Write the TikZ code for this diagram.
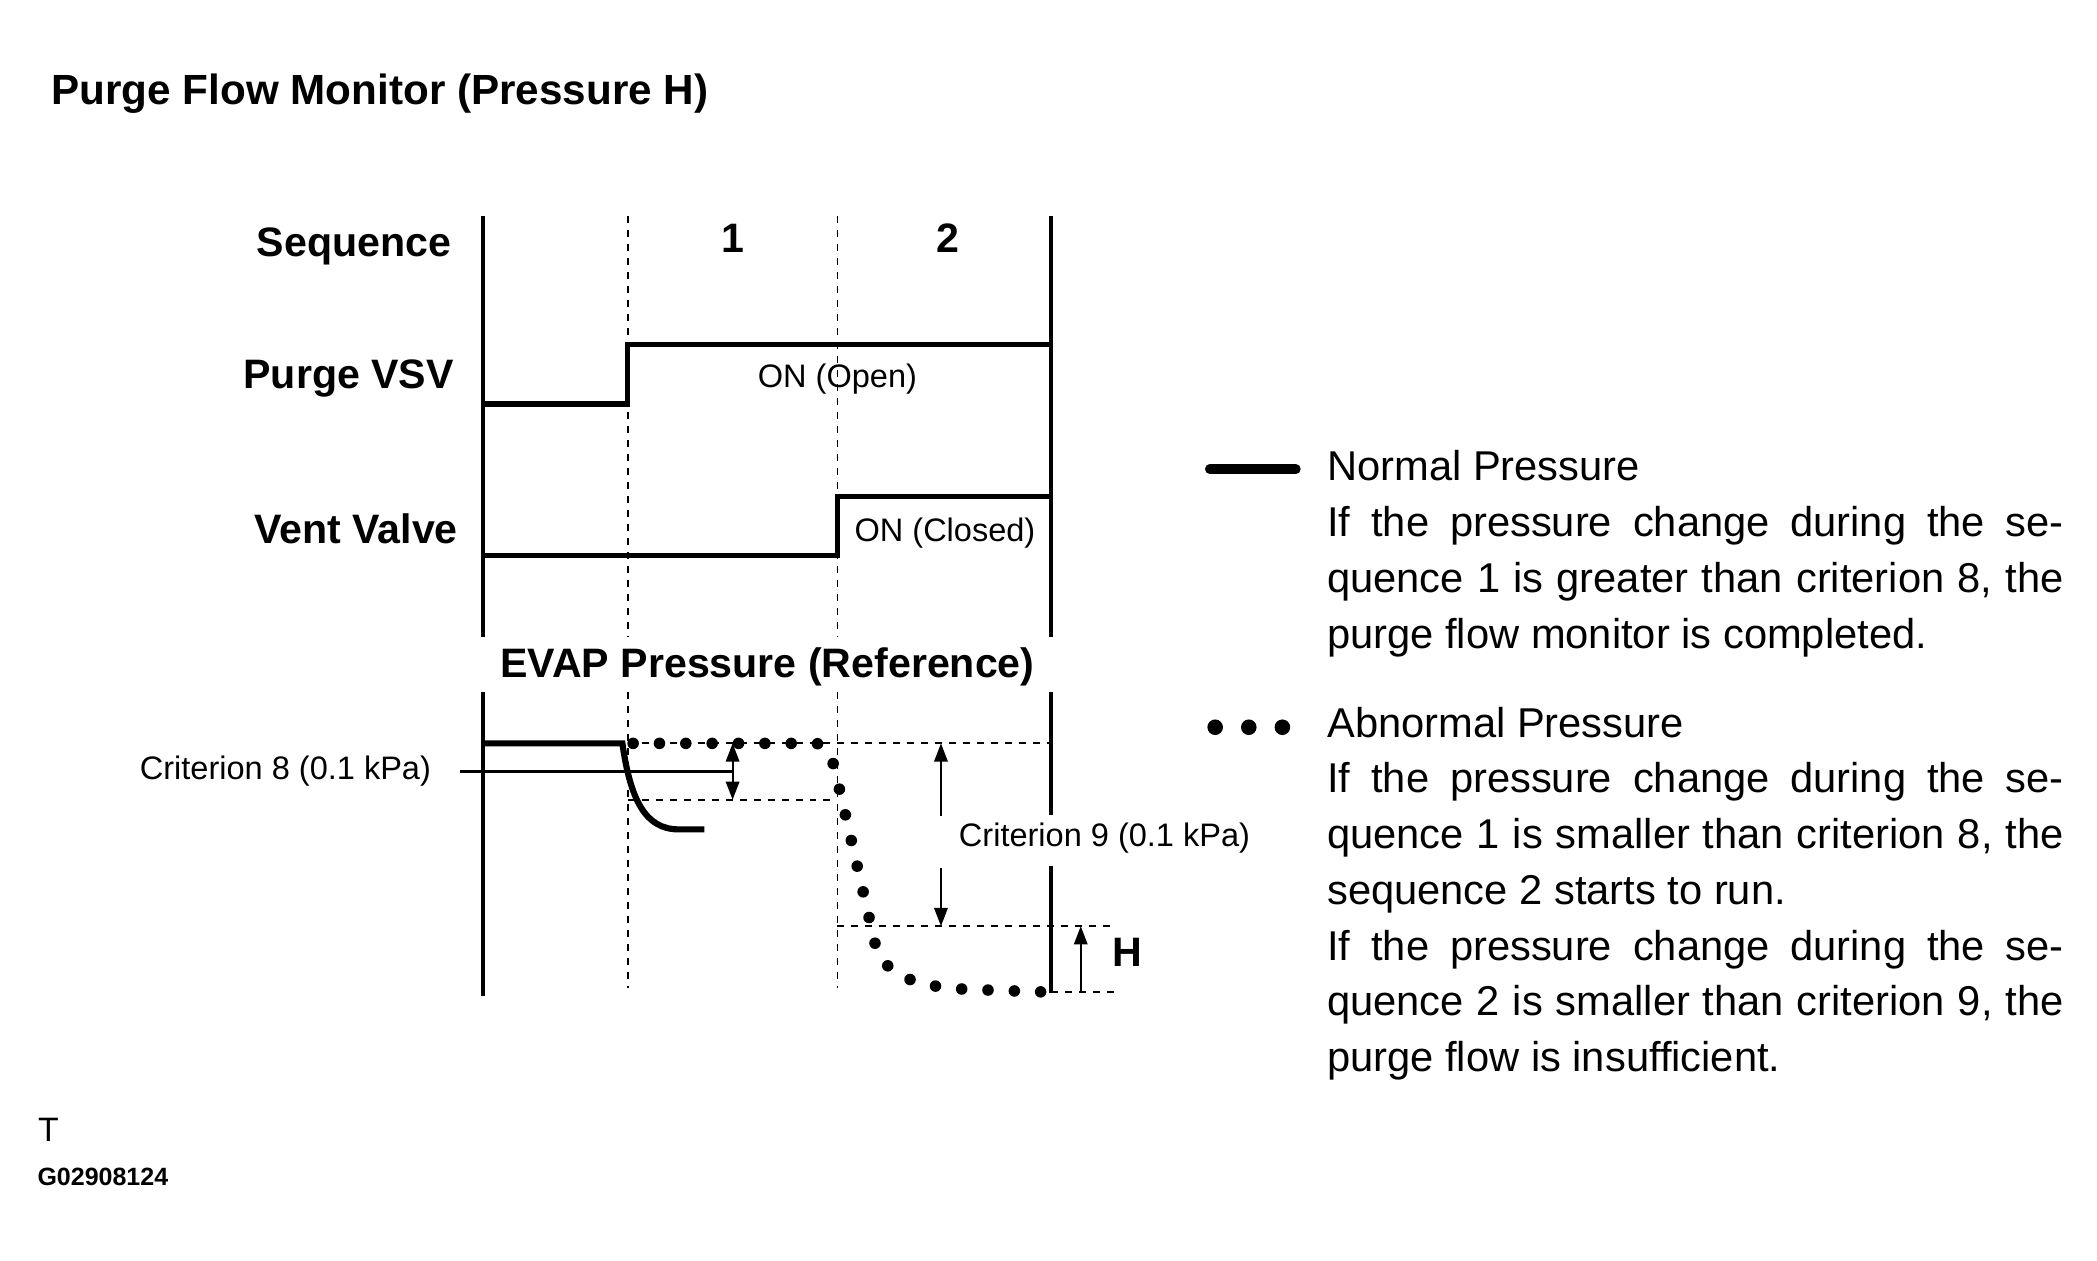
\documentclass[tikz,border=0pt]{standalone}
\usepackage{fontspec}
\setmainfont{Liberation Sans}
\usetikzlibrary{arrows.meta}
\tikzstyle{Frame}=[line width=1.5pt]
\tikzstyle{Grid}=[line width=0.7pt,dash pattern=on 2.6pt off 2.6pt]
\tikzstyle{Signal}=[line width=1.9pt]
\tikzstyle{Normal}=[line width=2.3pt]
\tikzstyle{Abnormal}=[line width=4.3pt,line cap=round,
dash pattern=on 0pt off 9.8pt]
\tikzstyle{Dim}=[line width=0.75pt]
\tikzstyle{Head}=[inner sep=0pt,font=\fontsize{15.3}{18}\selectfont\bfseries]
\tikzstyle{Small}=[inner sep=0pt,font=\fontsize{12.1}{14}\selectfont]
\tikzstyle{Body}=[inner sep=0pt,font=\fontsize{15.5}{20.75}\selectfont]
\newcommand{\JLine}[1]{\makebox[274pt][s]{#1}}

\begin{document}
\begin{tikzpicture}[x=0.5pt,y=-0.5pt,>={Triangle[length=6.8pt,width=5pt]}]
        \useasboundingbox(0,0)rectangle(1560,938);
        \node[Head,font=\fontsize{15.7}{18}\selectfont\bfseries,
            anchor=base west](title)at(38,78){Purge Flow Monitor (Pressure H)};
        % row labels
        \node[Head,anchor=base east](seq)at(336,191){Sequence};
        \node[Head,anchor=base east](vsv)at(338,289){Purge VSV};
        \node[Head,anchor=base east](vent)at(341,404){Vent Valve};
        \node[Head,anchor=base](s1)at(545,188){1};
        \node[Head,anchor=base](s2)at(705,188){2};
        \node[Small,anchor=base](vsvon)at(623,288){ON (Open)};
        \node[Small,anchor=base](venton)at(703,403){ON (Closed)};
        \node[Head,anchor=base](evap)at(571,504){EVAP Pressure (Reference)};
        % frames
        \draw[Frame](359,161)--(359,474);
        \draw[Frame](782,161)--(782,474);
        \draw[Frame](359,515)--(359,741);
        \draw[Frame](782,515)--(782,606);
        \draw[Frame](782,644)--(782,739);
        \foreach \x in {467,623}{
            \draw[Grid](\x,161)--(\x,474);
            \draw[Grid](\x,515)--(\x,735);}
        % signals
        \draw[Signal](359,300.5)--(467,300.5)--(467,256.5)--(782,256.5);
        \draw[Signal](359,413.5)--(623,413.5)--(623,369.5)--(782,369.5);
        % reference levels
        \draw[Grid](467,553)--(782,553);
        \draw[Grid](467,595)--(623,595);
        \draw[Grid](623,689)--(830,689);
        \draw[Grid](782,738)--(830,738);
        % pressure
        \draw[Normal](359,553)--(463,553)
            ..controls(469,595)and(480,617)..(505,617)--(524,617);
        \draw[Abnormal](471,553)--(606,553)
            ..controls(617,553)and(621,570)..(624,585)--(651,702)
            ..controls(657,725)and(680,734)..(720,736)--(778,738);
        % criterion 8
        \node[Small,anchor=base east](c8)at(321,580){Criterion 8 (0.1 kPa)};
        \coordinate(c8a)at(342,574);
        \coordinate(c8b)at(545,574);
        \coordinate(c8t)at(545,553);
        \coordinate(c8d)at(545,595);
        \draw[line width=1pt](c8a)--(c8b);
        \draw[Dim,<->](c8t)--(c8d);
        % criterion 9
        \node[Small,anchor=base west](c9)at(713,630){Criterion 9 (0.1 kPa)};
        \coordinate(c9a)at(700,607);
        \coordinate(c9t)at(700,553);
        \coordinate(c9b)at(700,646);
        \coordinate(c9d)at(700,689);
        \draw[Dim,->](c9a)--(c9t);
        \draw[Dim,->](c9b)--(c9d);
        % H
        \coordinate(ha)at(804,738);
        \coordinate(hb)at(804,689);
        \draw[Dim,->](ha)--(hb);
        \node[Head,anchor=base west](h)at(827,719){H};
        % legend
        \draw[line width=3.6pt,line cap=round](900,349)--(964,349);
        \foreach \x in {904,929,954}
            \fill(\x,541)circle[radius=2.9pt];
        \node[Body,anchor=base west](normal)at(987,357.6){\parbox[t]{274pt}{%
            Normal Pressure\\
            \JLine{If the pressure change during the se-}\\
            \JLine{quence 1 is greater than criterion 8, the}\\
            purge flow monitor is completed.}};
        \node[Body,anchor=base west](abnormal)at(987,548.3){\parbox[t]{274pt}{%
            Abnormal Pressure\\
            \JLine{If the pressure change during the se-}\\
            \JLine{quence 1 is smaller than criterion 8, the}\\
            sequence 2 starts to run.\\
            \JLine{If the pressure change during the se-}\\
            \JLine{quence 2 is smaller than criterion 9, the}\\
            purge flow is insufficient.}};
        % figure code
        \node[Small,font=\fontsize{12.6}{14}\selectfont,
            anchor=base west](t)at(28,849.5){T};
        \node[Small,font=\fontsize{9.3}{11}\selectfont\bfseries,
            anchor=base west](code)at(27.5,881.7){G02908124};
    \end{tikzpicture}
\end{document}
